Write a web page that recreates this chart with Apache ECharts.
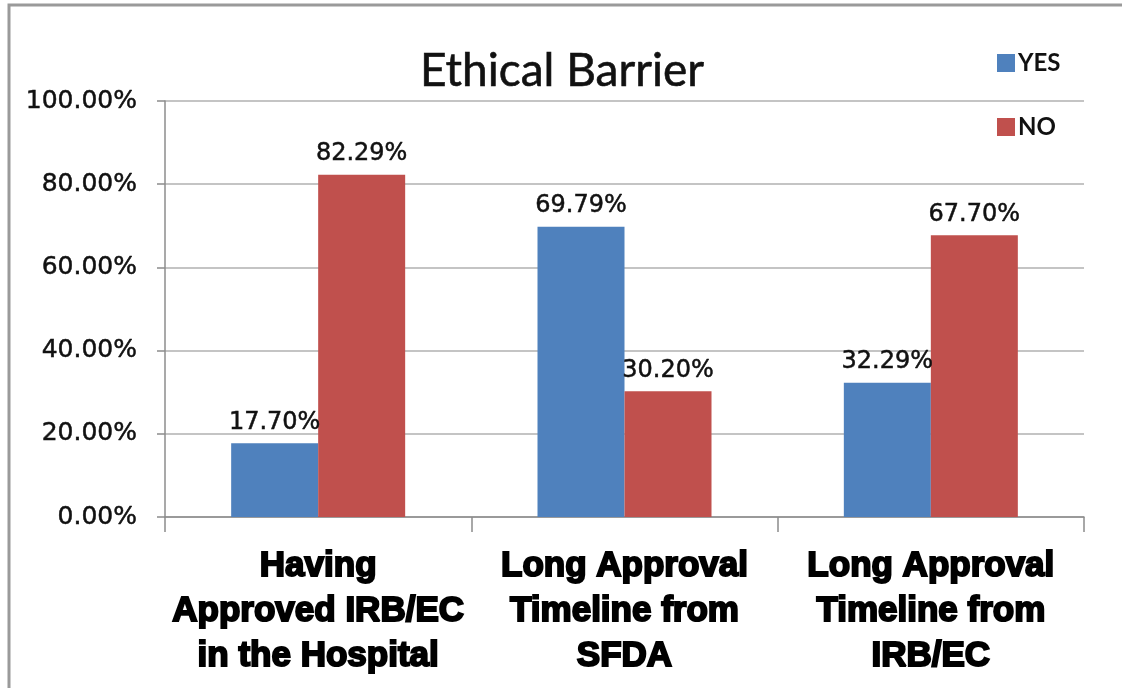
<!DOCTYPE html>
<html>
<head>
<meta charset="utf-8">
<script src="https://cdn.jsdelivr.net/npm/echarts@6/dist/echarts.min.js"></script>
<style>html,body{margin:0;padding:0;background:#fff}#c{width:1122px;height:688px}</style>
</head>
<body>
<div id="c"></div>
<script>
const categories = ['Having\nApproved IRB/EC\nin the Hospital', 'Long Approval\nTimeline from\nSFDA', 'Long Approval\nTimeline from\nIRB/EC'];
const yesValues = [17.70, 69.79, 32.29];
const noValues = [82.29, 30.20, 67.70];
const yTicks = [0, 20, 40, 60, 80, 100];

const chart = echarts.init(document.getElementById('c'));
const labelStyle = {
  show: true, position: 'top', distance: 9,
  fontFamily: 'DejaVu Sans', fontSize: 24, color: '#111',
  textBorderColor: '#111', textBorderWidth: 0.5,
  formatter: p => p.value.toFixed(2) + '%'
};
chart.setOption({
  backgroundColor: '#fff',
  animation: false,
  graphic: [{
    type: 'rect', shape: { x: 9, y: 5, width: 1300, height: 900 },
    style: { fill: 'none', stroke: '#9a9a9a', lineWidth: 3 }, silent: true
  }],
  title: {
    text: 'Ethical Barrier', left: 557, top: 66, textAlign: 'center', textVerticalAlign: 'middle',
    textStyle: { fontFamily: 'Lato', fontSize: 46, fontWeight: 'normal', color: '#111',
      textBorderColor: '#111', textBorderWidth: 0.6 }
  },
  legend: {
    orient: 'vertical', left: 992, top: 46, itemWidth: 18, itemHeight: 18, itemGap: 40,
    icon: 'rect',
    textStyle: { fontFamily: 'Lato', fontSize: 24, fontWeight: 'bold', color: '#111', padding: [0, 0, 0, -2] },
    data: ['YES', 'NO']
  },
  grid: { left: 165, right: 38, top: 101, bottom: 171, containLabel: false },
  xAxis: {
    type: 'category', data: categories,
    axisLine: { lineStyle: { color: '#8c8c8c', width: 1.5 } },
    axisTick: { show: true, length: 15, lineStyle: { color: '#8c8c8c', width: 1.5 } },
    axisLabel: {
      interval: 0, margin: 27, fontFamily: 'Liberation Sans', fontSize: 35, fontWeight: 'bold',
      lineHeight: 45, color: '#000', textBorderColor: '#000', textBorderWidth: 2
    }
  },
  yAxis: {
    type: 'value', min: yTicks[0], max: yTicks[yTicks.length - 1], interval: 20,
    axisLine: { show: true, lineStyle: { color: '#8c8c8c', width: 1.5 } },
    axisTick: { show: true, length: 8, lineStyle: { color: '#8c8c8c', width: 1.5 } },
    splitLine: { lineStyle: { color: '#b0b0b0', width: 1.5 } },
    axisLabel: {
      margin: 28, fontFamily: 'DejaVu Sans', fontSize: 25, color: '#111',
      textBorderColor: '#111', textBorderWidth: 0.5,
      formatter: v => v.toFixed(2) + '%'
    }
  },
  series: [
    { name: 'YES', type: 'bar', data: yesValues, barWidth: 87, barGap: '0%',
      itemStyle: { color: '#4F81BD' }, label: labelStyle },
    { name: 'NO', type: 'bar', data: noValues, barWidth: 87, barGap: '0%',
      itemStyle: { color: '#C0504D' }, label: labelStyle }
  ]
});
</script>
</body>
</html>
